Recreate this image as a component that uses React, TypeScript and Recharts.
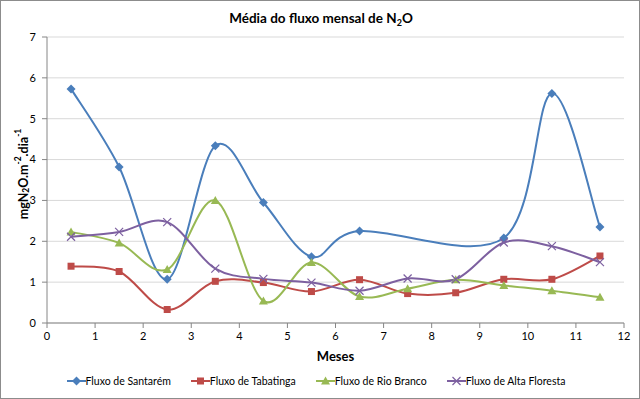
import React from 'react';
import { LineChart, Line, XAxis, YAxis, CartesianGrid, Legend, Label } from 'recharts';

// months sit at the middle of each interval (0.5 .. 11.5)
const months = [0.5, 1.5, 2.5, 3.5, 4.5, 5.5, 6.5, 7.5, 8.5, 9.5, 10.5, 11.5];
const santarem = [5.73, 3.82, 1.07, 4.34, 2.95, 1.62, 2.25, null, null, 2.08, 5.62, 2.35];
const tabatinga = [1.39, 1.26, 0.33, 1.02, 0.99, 0.77, 1.06, 0.72, 0.74, 1.07, 1.07, 1.64];
const rioBranco = [2.23, 1.96, 1.31, 3.0, 0.54, 1.48, 0.65, 0.84, 1.06, 0.92, 0.79, 0.63];
const altaFloresta = [2.11, 2.23, 2.47, 1.33, 1.08, 0.99, 0.79, 1.09, 1.07, 1.97, 1.88, 1.49];

const xTicks = [0, 1, 2, 3, 4, 5, 6, 7, 8, 9, 10, 11, 12];
const yTicks = [0, 1, 2, 3, 4, 5, 6, 7];

const seriesNames = ['Fluxo de Santarém', 'Fluxo de Tabatinga', 'Fluxo de Rio Branco', 'Fluxo de Alta Floresta'];

const data = months.map((m, i) => ({
  mes: m,
  santarem: santarem[i],
  tabatinga: tabatinga[i],
  rioBranco: rioBranco[i],
  altaFloresta: altaFloresta[i],
}));

const BLUE = '#4a7ebb';
const RED = '#be4b48';
const GREEN = '#98b954';
const PURPLE = '#7d60a0';
const FONT = 'Lato, "Open Sans", sans-serif';

// Excel-like smoothed line (catmull-rom, 1/6 control points)
const excelSmooth = (context: any) => {
  let pts: number[][] = [];
  return {
    areaStart() {},
    areaEnd() {},
    lineStart() {
      pts = [];
    },
    point(x: number, y: number) {
      pts.push([+x, +y]);
    },
    lineEnd() {
      const n = pts.length;
      if (!n) return;
      context.moveTo(pts[0][0], pts[0][1]);
      for (let i = 0; i < n - 1; i++) {
        const p0 = pts[i - 1] || pts[i];
        const p1 = pts[i];
        const p2 = pts[i + 1];
        const p3 = pts[i + 2] || p2;
        context.bezierCurveTo(
          p1[0] + (p2[0] - p0[0]) / 6,
          p1[1] + (p2[1] - p0[1]) / 6,
          p2[0] - (p3[0] - p1[0]) / 6,
          p2[1] - (p3[1] - p1[1]) / 6,
          p2[0],
          p2[1]
        );
      }
    },
  };
};

type Shape = 'diamond' | 'square' | 'triangle' | 'x';

const Marker = ({ cx, cy, shape, color }: { cx: number; cy: number; shape: Shape; color: string }) => {
  if (shape === 'diamond') {
    return <path d={`M${cx},${cy - 4.5}L${cx + 4.5},${cy}L${cx},${cy + 4.5}L${cx - 4.5},${cy}Z`} fill={color} />;
  }
  if (shape === 'square') {
    return <rect x={cx - 3.5} y={cy - 3.5} width={7} height={7} fill={color} />;
  }
  if (shape === 'triangle') {
    return <path d={`M${cx},${cy - 4.5}L${cx + 4.5},${cy + 3.5}L${cx - 4.5},${cy + 3.5}Z`} fill={color} />;
  }
  return (
    <path
      d={`M${cx - 4},${cy - 4}L${cx + 4},${cy + 4}M${cx - 4},${cy + 4}L${cx + 4},${cy - 4}`}
      stroke={color}
      strokeWidth={1.2}
      fill="none"
    />
  );
};

const makeDot = (shape: Shape, color: string) => (props: any) => {
  const { cx, cy, index, value } = props;
  if (cx == null || cy == null || value == null) return <g key={`d-${shape}-${index}`} />;
  return (
    <g key={`d-${shape}-${index}`}>
      <Marker cx={cx} cy={cy} shape={shape} color={color} />
    </g>
  );
};

const legendItems: { name: string; color: string; shape: Shape }[] = [
  { name: seriesNames[0], color: BLUE, shape: 'diamond' },
  { name: seriesNames[1], color: RED, shape: 'square' },
  { name: seriesNames[2], color: GREEN, shape: 'triangle' },
  { name: seriesNames[3], color: PURPLE, shape: 'x' },
];

const renderLegend = () => (
  <div
    style={{
      display: 'flex',
      justifyContent: 'center',
      alignItems: 'center',
      height: 26,
      gap: 20,
      fontFamily: FONT,
      fontSize: 10.5,
      color: '#000',
      paddingLeft: 8,
    }}
  >
    {legendItems.map((it) => (
      <div key={it.name} style={{ display: 'flex', alignItems: 'center' }}>
        <svg width={19} height={10} style={{ display: 'block' }}>
          <line x1={0} y1={5} x2={19} y2={5} stroke={it.color} strokeWidth={2} />
          <Marker cx={9.5} cy={5} shape={it.shape} color={it.color} />
        </svg>
        <span>{it.name}</span>
      </div>
    ))}
  </div>
);

const YTitle = () => (
  <text
    transform="translate(23,174) rotate(-90)"
    textAnchor="middle"
    dominantBaseline="central"
    fontFamily={FONT}
    fontWeight="bold"
    fontSize={12.5}
    fill="#000"
  >
    mgN
    <tspan fontSize={8.5} dy={3}>2</tspan>
    <tspan dy={-3}>O.m</tspan>
    <tspan fontSize={8.5} dy={-5}>-2</tspan>
    <tspan dy={5}>.dia</tspan>
    <tspan fontSize={8.5} dy={-5}>-1</tspan>
  </text>
);

const XTitle = (props: any) => {
  const vb = props.viewBox || {};
  return (
    <text
      x={vb.x + vb.width / 2}
      y={356}
      textAnchor="middle"
      dominantBaseline="central"
      fontFamily={FONT}
      fontWeight="bold"
      fontSize={13}
      fill="#000"
    >
      Meses
    </text>
  );
};

export default function App() {
  return (
    <div
      style={{
        position: 'absolute',
        left: 0,
        top: 0,
        width: 640,
        height: 399,
        background: '#fff',
        boxSizing: 'border-box',
        border: '1px solid #8c8c8c',
        overflow: 'hidden',
      }}
    >
      <div
        style={{
          position: 'absolute',
          top: 9,
          left: 0,
          width: 640,
          textAlign: 'center',
          fontFamily: FONT,
          fontWeight: 'bold',
          fontSize: 13.5,
          color: '#000',
          zIndex: 2,
        }}
      >
        Média do fluxo mensal de N
        <span style={{ fontSize: 9, position: 'relative', top: 3 }}>2</span>O
      </div>
      <div style={{ position: 'absolute', left: -1, top: -1 }}>
        <LineChart width={640} height={399} data={data} margin={{ top: 37, right: 16, left: 0, bottom: 5 }}>
          <CartesianGrid horizontal vertical={false} stroke="#d9d9d9" />
          <XAxis
            dataKey="mes"
            type="number"
            domain={[0, 12]}
            ticks={xTicks}
            interval={0}
            height={45}
            stroke="#868686"
            tickSize={5}
            tickMargin={4}
            tick={{ fill: '#000', fontSize: 11, fontFamily: FONT }}
          >
            <Label content={<XTitle />} />
          </XAxis>
          <YAxis
            type="number"
            domain={[0, 7]}
            ticks={yTicks}
            interval={0}
            width={47}
            stroke="#868686"
            tickSize={5}
            tickMargin={6}
            tick={{ fill: '#000', fontSize: 11, fontFamily: FONT }}
          >
            <Label content={<YTitle />} />
          </YAxis>
          <Legend verticalAlign="bottom" content={renderLegend} />
          <Line
            dataKey="santarem"
            name={seriesNames[0]}
            type={excelSmooth as any}
            stroke={BLUE}
            strokeWidth={2}
            connectNulls
            dot={makeDot('diamond', BLUE)}
            isAnimationActive={false}
          />
          <Line
            dataKey="tabatinga"
            name={seriesNames[1]}
            type={excelSmooth as any}
            stroke={RED}
            strokeWidth={2}
            dot={makeDot('square', RED)}
            isAnimationActive={false}
          />
          <Line
            dataKey="rioBranco"
            name={seriesNames[2]}
            type={excelSmooth as any}
            stroke={GREEN}
            strokeWidth={2}
            dot={makeDot('triangle', GREEN)}
            isAnimationActive={false}
          />
          <Line
            dataKey="altaFloresta"
            name={seriesNames[3]}
            type={excelSmooth as any}
            stroke={PURPLE}
            strokeWidth={2}
            dot={makeDot('x', PURPLE)}
            isAnimationActive={false}
          />
        </LineChart>
      </div>
    </div>
  );
}
